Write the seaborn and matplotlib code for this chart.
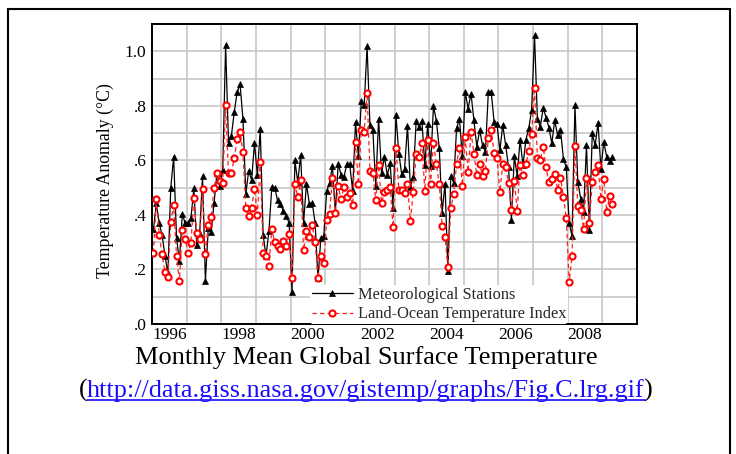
import numpy as np
import pandas as pd
import matplotlib
matplotlib.use("Agg")
import matplotlib.pyplot as plt
import seaborn as sns
from matplotlib.lines import Line2D
from matplotlib.patches import Rectangle

# ---------------- data (monthly anomalies, Jan 1996 onwards) ----------------
start = "1996-01-01"
met_stations = [
    0.347, 0.442, 0.369, 0.326, 0.25, 0.186, 0.50, 0.613, 0.316, 0.231, 0.403, 0.369,
    0.369, 0.39, 0.497, 0.29, 0.33, 0.542, 0.159, 0.353, 0.336, 0.442, 0.552, 0.507,
    0.564, 1.024, 0.665, 0.69, 0.778, 0.85, 0.88, 0.752, 0.477, 0.562, 0.528, 0.664,
    0.545, 0.715, 0.326, 0.249, 0.341, 0.502, 0.50, 0.453, 0.44, 0.414, 0.396, 0.37,
    0.118, 0.60, 0.52, 0.62, 0.37, 0.515, 0.44, 0.445, 0.37, 0.167, 0.317, 0.322,
    0.487, 0.518, 0.579, 0.411, 0.588, 0.546, 0.54, 0.586, 0.585, 0.488, 0.741, 0.615,
    0.817, 0.802, 1.018, 0.729, 0.711, 0.505, 0.753, 0.552, 0.613, 0.546, 0.589, 0.427,
    0.766, 0.625, 0.549, 0.57, 0.727, 0.503, 0.54, 0.744, 0.723, 0.745, 0.582, 0.733,
    0.579, 0.799, 0.745, 0.645, 0.408, 0.515, 0.195, 0.542, 0.518, 0.717, 0.753, 0.615,
    0.851, 0.79, 0.845, 0.747, 0.65, 0.711, 0.655, 0.631, 0.851, 0.851, 0.741, 0.733,
    0.637, 0.729, 0.656, 0.576, 0.383, 0.615, 0.542, 0.676, 0.582, 0.674, 0.717, 0.784,
    1.059, 0.753, 0.723, 0.792, 0.757, 0.72, 0.662, 0.747, 0.692, 0.713, 0.606, 0.574,
    0.371, 0.322, 0.802, 0.521, 0.46, 0.411, 0.655, 0.344, 0.699, 0.655, 0.737, 0.57,
    0.667, 0.613, 0.598, 0.611,
]
land_ocean = [
    0.261, 0.457, 0.326, 0.255, 0.19, 0.171, 0.375, 0.436, 0.249, 0.159, 0.344, 0.311,
    0.261, 0.298, 0.463, 0.332, 0.311, 0.494, 0.255, 0.363, 0.394, 0.50, 0.552, 0.525,
    0.518, 0.802, 0.552, 0.552, 0.609, 0.68, 0.703, 0.63, 0.424, 0.396, 0.426, 0.496,
    0.40, 0.595, 0.261, 0.249, 0.214, 0.348, 0.30, 0.285, 0.276, 0.305, 0.285, 0.33,
    0.17, 0.514, 0.465, 0.527, 0.27, 0.34, 0.32, 0.362, 0.30, 0.167, 0.249, 0.225,
    0.381, 0.405, 0.537, 0.408, 0.505, 0.457, 0.503, 0.466, 0.481, 0.436, 0.668, 0.513,
    0.711, 0.705, 0.847, 0.562, 0.554, 0.454, 0.582, 0.444, 0.485, 0.491, 0.501, 0.354,
    0.647, 0.493, 0.491, 0.481, 0.513, 0.379, 0.485, 0.623, 0.613, 0.662, 0.488, 0.674,
    0.512, 0.664, 0.585, 0.513, 0.361, 0.32, 0.208, 0.424, 0.476, 0.586, 0.647, 0.507,
    0.684, 0.558, 0.705, 0.625, 0.546, 0.585, 0.542, 0.562, 0.683, 0.711, 0.628, 0.61,
    0.485, 0.586, 0.576, 0.518, 0.418, 0.525, 0.415, 0.582, 0.546, 0.585, 0.634, 0.698,
    0.867, 0.61, 0.601, 0.65, 0.574, 0.52, 0.531, 0.549, 0.493, 0.537, 0.466, 0.387,
    0.153, 0.25, 0.652, 0.433, 0.418, 0.35, 0.535, 0.371, 0.521, 0.558, 0.582, 0.457,
    0.531, 0.411, 0.47, 0.44,
]
year_labels = ["1996", "1998", "2000", "2002", "2004", "2006", "2008"]
y_ticks = [0.0, 0.2, 0.4, 0.6, 0.8, 1.0]
y_tick_labels = [".0", ".2", ".4", ".6", ".8", "1.0"]
series_names = ["Meteorological Stations", "Land-Ocean Temperature Index"]
title = "Monthly Mean Global Surface Temperature"
url = "http://data.giss.nasa.gov/gistemp/graphs/Fig.C.lrg.gif"

months = pd.date_range(start, periods=len(met_stations), freq="MS")
dec_year = months.year + (months.month - 0.5) / 12.0
df = pd.DataFrame({"year": dec_year, "met": met_stations, "lo": land_ocean})

# ---------------- styling ----------------
sns.set_style("white")
plt.rcParams["font.family"] = ["Liberation Serif", "DejaVu Serif"]

W, H = 736, 454
fig = plt.figure(figsize=(W / 100, H / 100), dpi=100)
fig.patch.set_facecolor("white")

def fx(px):
    return px / W

def fy(py):
    return 1 - py / H

ax = fig.add_axes([fx(152), fy(324), fx(637) - fx(152), fy(24) - fy(324)])

sns.lineplot(data=df, x="year", y="met", ax=ax, color="black", lw=0.9,
             marker="^", markersize=4.8, markeredgewidth=0.5, markeredgecolor="black",
             markerfacecolor="black", label=series_names[0], zorder=3)
sns.lineplot(data=df, x="year", y="lo", ax=ax, color="#ff2020", lw=0.9,
             linestyle=(0, (3.5, 2.5)),
             marker="o", markersize=4.4, markeredgewidth=1.5, markeredgecolor="#ff0000",
             markerfacecolor="white", label=series_names[1], zorder=4)

first_year = int(year_labels[0])
ax.set_xlim(first_year, first_year + 14)
ax.set_ylim(0, 1.1)

ax.set_xticks([int(y) + 0.5 for y in year_labels])
ax.set_xticklabels(year_labels)
ax.set_xticks(np.arange(first_year + 1, first_year + 14), minor=True)
ax.set_yticks(y_ticks)
ax.set_yticklabels(y_tick_labels)
ax.set_yticks(np.arange(0.1, 1.1, 0.2), minor=True)
ax.tick_params(axis="both", which="both", length=0, labelsize=12.5, colors="black")
ax.tick_params(axis="x", pad=2.5)
ax.tick_params(axis="y", pad=4)

ax.grid(False)
ax.grid(True, axis="x", which="minor", color="#c8c8c8", lw=1.2)
ax.grid(True, axis="y", which="both", color="#c8c8c8", lw=1.2)
ax.set_axisbelow(True)
for s in ax.spines.values():
    s.set_color("black")
    s.set_linewidth(1.4)
    s.set_visible(True)

ax.set_xlabel("")
ax.set_ylabel("Temperature Anomaly (°C)", fontsize=12.8, color="black")
ax.yaxis.set_label_coords((114 - 152) / 485, (324 - 181) / 300)

leg = ax.legend(loc="upper left", bbox_to_anchor=(fx(310), fy(285)),
                bbox_transform=fig.transFigure, frameon=True, fontsize=11.8,
                handlelength=2.5, handletextpad=0.3, labelspacing=0.22,
                borderpad=0.1, borderaxespad=0)
leg.get_frame().set_facecolor("white")
leg.get_frame().set_edgecolor("none")
leg.get_frame().set_alpha(1)

# outer slide frame
fig.patches.append(Rectangle((fx(8), -0.2), fx(730) - fx(8), fy(9) + 0.2,
                             transform=fig.transFigure, fill=False,
                             ec="black", lw=1.5))

fig.text(fx(366), fy(364), title, ha="center", va="baseline", fontsize=19,
         color="black")

r = fig.canvas.get_renderer()
base = fy(397)
t_url = fig.text(fx(366), base, url, ha="center", va="baseline", fontsize=18.8,
                 color="#1a0dff")
bb = t_url.get_window_extent(r)
fig.text(bb.x0 / W, base, "(", ha="right", va="baseline", fontsize=18.8, color="black")
fig.text(bb.x1 / W - 0.002, base, ")", ha="left", va="baseline", fontsize=18.8, color="black")
fig.add_artist(Line2D([bb.x0 / W, bb.x1 / W], [fy(400), fy(400)],
                      transform=fig.transFigure, color="#1a0dff", lw=1.2))

fig.savefig("out.png", dpi=100)
